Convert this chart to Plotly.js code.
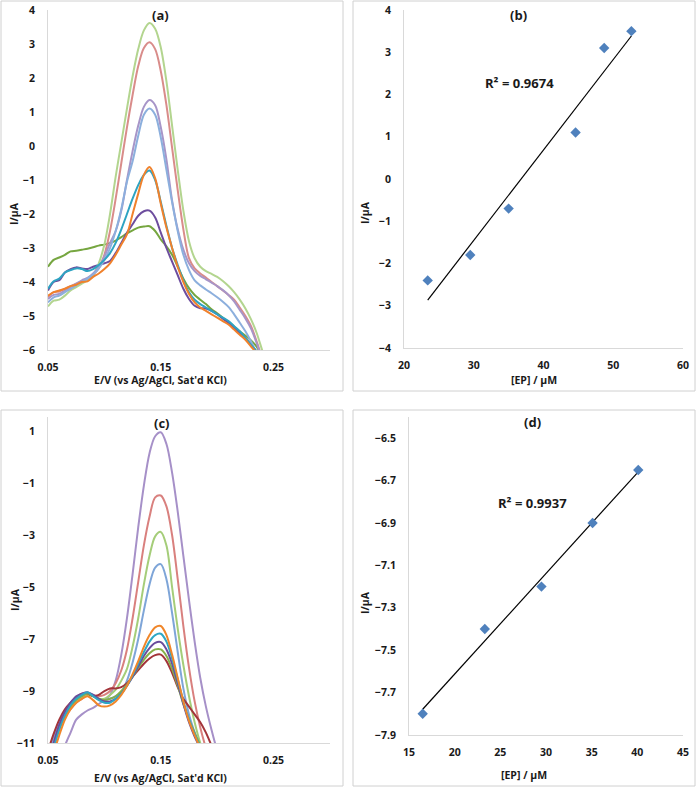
<!DOCTYPE html>
<html>
<head>
<meta charset="utf-8">
<script src="https://cdn.plot.ly/plotly-3.0.1.min.js"></script>
<style>html,body{margin:0;padding:0;background:#fff;}#chart{width:697px;height:787px;}</style>
</head>
<body>
<div id="chart"></div>
<script>
// ---------- Panel (a): DPV curves ----------
const potA = [0.050,0.055,0.060,0.065,0.070,0.075,0.080,0.085,0.090,0.095,0.100,0.105,0.110,0.115,0.120,0.125,0.130,0.135,0.140,0.145,0.150,0.155,0.160,0.165,0.170,0.175,0.180,0.185,0.190,0.195,0.200,0.205,0.210,0.215,0.220,0.225,0.230,0.235,0.240,0.245];
const aDarkGreen  = [-3.55,-3.35,-3.28,-3.2,-3.1,-3.08,-3.05,-3.02,-2.98,-2.93,-2.9,-2.85,-2.78,-2.68,-2.57,-2.48,-2.4,-2.37,-2.36,-2.5,-2.75,-2.95,-3.2,-3.55,-3.9,-4.18,-4.38,-4.52,-4.65,-4.8,-4.92,-5.05,-5.18,-5.31,-5.45,-5.58,-5.72,-5.9,-6.2,-6.5];
const aPurple     = [-4.25,-4.0,-3.95,-3.72,-3.62,-3.57,-3.6,-3.62,-3.55,-3.5,-3.45,-3.38,-3.15,-2.85,-2.55,-2.3,-2.05,-1.92,-1.9,-2.1,-2.55,-3.0,-3.4,-3.8,-4.2,-4.5,-4.7,-4.77,-4.78,-4.85,-4.95,-5.08,-5.2,-5.35,-5.5,-5.65,-5.85,-6.05,-6.4,-6.7];
const aTeal       = [-4.2,-3.98,-3.9,-3.72,-3.65,-3.6,-3.62,-3.68,-3.62,-3.5,-3.35,-3.15,-2.85,-2.45,-2.0,-1.55,-1.15,-0.85,-0.72,-1.0,-1.65,-2.35,-3.0,-3.5,-3.95,-4.3,-4.52,-4.65,-4.75,-4.85,-4.95,-5.05,-5.15,-5.3,-5.45,-5.65,-5.85,-6.05,-6.35,-6.7];
const aOrange     = [-4.4,-4.3,-4.25,-4.2,-4.12,-4.08,-4.0,-3.98,-3.85,-3.75,-3.62,-3.45,-3.2,-2.9,-2.6,-2.0,-1.4,-0.85,-0.62,-0.95,-1.7,-2.4,-3.0,-3.55,-4.0,-4.35,-4.6,-4.75,-4.85,-4.95,-5.05,-5.15,-5.25,-5.4,-5.55,-5.7,-5.9,-6.1,-6.4,-6.8];
const aLightBlue  = [-4.6,-4.45,-4.4,-4.3,-4.2,-4.1,-4.0,-3.9,-3.78,-3.6,-3.35,-3.0,-2.5,-1.85,-1.05,-0.45,0.3,0.92,1.1,0.92,0.25,-0.7,-1.65,-2.5,-3.2,-3.65,-3.95,-4.1,-4.22,-4.33,-4.45,-4.58,-4.73,-4.95,-5.2,-5.45,-5.75,-6.1,-6.5,-7.0];
const aLightPurple= [-4.5,-4.38,-4.35,-4.25,-4.15,-4.05,-3.95,-3.88,-3.75,-3.55,-3.25,-2.85,-2.5,-1.9,-1.0,-0.15,0.6,1.15,1.35,1.2,0.55,-0.4,-1.6,-2.45,-3.05,-3.45,-3.68,-3.82,-3.92,-4.02,-4.12,-4.24,-4.38,-4.57,-4.82,-5.07,-5.37,-5.8,-6.3,-6.8];
const aLightRed   = [-4.45,-4.3,-4.28,-4.2,-4.12,-4.05,-3.98,-3.9,-3.78,-3.6,-3.2,-2.5,-1.55,-0.5,0.55,1.5,2.35,2.88,3.05,2.85,2.2,1.2,-0.05,-1.3,-2.45,-3.3,-3.6,-3.75,-3.87,-4.0,-4.12,-4.25,-4.38,-4.52,-4.75,-5.0,-5.3,-5.75,-6.25,-6.7];
const aLightGreen = [-4.72,-4.55,-4.52,-4.4,-4.25,-4.15,-4.05,-3.95,-3.8,-3.45,-2.9,-2.0,-0.9,0.1,1.1,2.05,2.85,3.4,3.62,3.45,2.9,1.9,0.6,-0.7,-1.9,-2.8,-3.3,-3.55,-3.68,-3.76,-3.85,-3.97,-4.12,-4.3,-4.52,-4.78,-5.1,-5.5,-6.02,-6.5];

// ---------- Panel (b): calibration ----------
const concB = [23.4, 29.5, 35.0, 44.6, 48.7, 52.6];
const currB = [-2.4, -1.8, -0.7, 1.1, 3.1, 3.5];
const r2B = "R² = 0.9674";

// ---------- Panel (c): DPV curves ----------
const potC = [0.050,0.055,0.060,0.065,0.070,0.075,0.080,0.085,0.090,0.095,0.100,0.105,0.110,0.115,0.120,0.125,0.130,0.135,0.140,0.145,0.150,0.155,0.160,0.165,0.170,0.175,0.180,0.185,0.190,0.195,0.200,0.205];
const cDarkRed    = [-11.3,-10.65,-10.1,-9.7,-9.45,-9.25,-9.1,-9.1,-9.2,-9.15,-9.0,-8.9,-8.9,-8.85,-8.7,-8.45,-8.2,-7.95,-7.75,-7.62,-7.6,-7.85,-8.3,-8.85,-9.3,-9.6,-9.9,-10.2,-10.6,-11.1,-11.6,-12.1];
const cGreen      = [-11.9,-11.1,-10.45,-9.95,-9.6,-9.35,-9.2,-9.1,-9.2,-9.3,-9.35,-9.3,-9.2,-9.0,-8.75,-8.45,-8.1,-7.8,-7.55,-7.4,-7.4,-7.65,-8.15,-8.8,-9.5,-10.1,-10.6,-11.1,-11.6,-12.1,-12.6,-13.1];
const cPurple     = [-11.8,-11.0,-10.3,-9.8,-9.45,-9.2,-9.1,-9.05,-9.15,-9.3,-9.4,-9.4,-9.3,-9.1,-8.8,-8.45,-8.05,-7.65,-7.35,-7.15,-7.12,-7.4,-7.95,-8.7,-9.5,-10.2,-10.75,-11.2,-11.7,-12.2,-12.7,-13.2];
const cTeal       = [-12.0,-11.2,-10.5,-9.95,-9.55,-9.3,-9.15,-9.05,-9.2,-9.35,-9.45,-9.45,-9.3,-9.1,-8.8,-8.4,-7.95,-7.5,-7.1,-6.85,-6.8,-7.1,-7.75,-8.55,-9.4,-10.1,-10.65,-11.15,-11.6,-12.1,-12.6,-13.1];
const cOrange     = [-12.2,-11.4,-10.7,-10.1,-9.7,-9.45,-9.3,-9.2,-9.35,-9.55,-9.6,-9.55,-9.4,-9.15,-8.8,-8.35,-7.85,-7.3,-6.85,-6.55,-6.5,-6.85,-7.6,-8.5,-9.4,-10.15,-10.7,-11.2,-11.7,-12.2,-12.7,-13.2];
const cLightBlue  = [-11.5,-10.8,-10.2,-9.8,-9.5,-9.3,-9.15,-9.1,-9.15,-9.3,-9.35,-9.3,-9.2,-9.05,-8.6,-7.9,-7.0,-5.9,-4.9,-4.25,-4.12,-4.7,-6.0,-7.5,-8.9,-9.9,-10.6,-11.3,-12.0,-12.6,-13.2,-13.8];
const cLightGreen = [-11.6,-10.9,-10.3,-9.9,-9.6,-9.4,-9.25,-9.15,-9.2,-9.3,-9.3,-9.15,-8.95,-8.6,-8.15,-7.3,-6.2,-4.9,-3.8,-3.05,-2.88,-3.4,-5.0,-6.6,-8.0,-9.2,-10.2,-11.0,-11.6,-12.2,-12.8,-13.4];
const cLightRed   = [-11.8,-11.0,-10.4,-10.0,-9.7,-9.45,-9.3,-9.15,-9.15,-9.2,-9.15,-9.0,-8.7,-8.2,-7.4,-6.2,-4.8,-3.4,-2.3,-1.55,-1.48,-1.9,-3.0,-4.7,-6.5,-8.1,-9.4,-10.4,-11.2,-11.9,-12.5,-13.1];
const cLightPurple= [-13.0,-12.3,-11.7,-11.1,-10.6,-10.1,-9.9,-9.75,-9.65,-9.5,-9.35,-9.15,-8.6,-7.6,-6.2,-4.5,-2.7,-1.1,0.15,0.8,0.95,0.5,-0.6,-2.1,-3.8,-5.5,-7.1,-8.5,-9.6,-10.5,-11.3,-12.0];

// ---------- Panel (d): calibration ----------
const concD = [16.5, 23.3, 29.5, 35.1, 40.1];
const currD = [-7.8, -7.4, -7.2, -6.9, -6.65];
const r2D = "R² = 0.9937";

// ---------- text ----------
const xTitleCV = "E/V (vs Ag/AgCl, Sat'd KCl)";
const xTitleCal = "[EP] / μM";
const yTitle = "I/μA";
const panelLabels = ["(a)", "(b)", "(c)", "(d)"];

// ---------- helpers ----------
const W = 697, H = 787;
const fx = p => p / W;
const fy = p => 1 - p / H;
const FONT = "'Open Sans', 'Noto Sans', sans-serif";

function fitLine(xs, ys) {
  const n = xs.length;
  const mx = xs.reduce((s, v) => s + v, 0) / n;
  const my = ys.reduce((s, v) => s + v, 0) / n;
  let sxy = 0, sxx = 0;
  for (let i = 0; i < n; i++) { sxy += (xs[i] - mx) * (ys[i] - my); sxx += (xs[i] - mx) ** 2; }
  const m = sxy / sxx, b = my - m * mx;
  const x0 = Math.min(...xs), x1 = Math.max(...xs);
  return { x: [x0, x1], y: [m * x0 + b, m * x1 + b] };
}

function curve(x, y, color, xa, ya) {
  return { type: 'scatter', mode: 'lines', x: x, y: y, xaxis: xa, yaxis: ya,
    line: { color: color, width: 2, shape: 'spline', smoothing: 0.9 }, showlegend: false, hoverinfo: 'skip' };
}

const traces = [];
// (a)
[[aDarkGreen,'#76a640'],[aPurple,'#6d4d9e'],[aLightGreen,'#b3d58f'],[aLightRed,'#d98c8a'],
 [aLightPurple,'#a795c8'],[aLightBlue,'#8cafdd'],[aTeal,'#2ea3c2'],[aOrange,'#f0812c']]
  .forEach(([y, c]) => traces.push(curve(potA, y, c, 'x', 'y')));
// (b)
const fitB = fitLine(concB, currB);
traces.push({ type: 'scatter', mode: 'lines', x: fitB.x, y: fitB.y, xaxis: 'x2', yaxis: 'y2',
  line: { color: '#000', width: 1.2 }, showlegend: false, hoverinfo: 'skip' });
traces.push({ type: 'scatter', mode: 'markers', x: concB, y: currB, xaxis: 'x2', yaxis: 'y2',
  marker: { symbol: 'diamond', size: 8, color: '#4f81bd' }, showlegend: false });
// (c)
[[cLightPurple,'#a690c8'],[cLightRed,'#d9807e'],[cLightGreen,'#a5cd79'],[cLightBlue,'#7ea5d8'],
 [cDarkRed,'#a3343a'],[cGreen,'#86b04a'],[cPurple,'#6a4c9c'],[cTeal,'#2ea7c4'],[cOrange,'#f0862a']]
  .forEach(([y, c]) => traces.push(curve(potC, y, c, 'x3', 'y3')));
// (d)
const fitD = fitLine(concD, currD);
traces.push({ type: 'scatter', mode: 'lines', x: fitD.x, y: fitD.y, xaxis: 'x4', yaxis: 'y4',
  line: { color: '#000', width: 1.2 }, showlegend: false, hoverinfo: 'skip' });
traces.push({ type: 'scatter', mode: 'markers', x: concD, y: currD, xaxis: 'x4', yaxis: 'y4',
  marker: { symbol: 'diamond', size: 8, color: '#4f81bd' }, showlegend: false });

const tickFont = { family: FONT, size: 10.5, color: '#1a1a1a', weight: 'bold' };
function xax(domain, range, tick0, dtick, fmt, anchor) {
  return { domain: domain, range: range, tick0: tick0, dtick: dtick, tickmode: 'linear', tickformat: fmt,
    showgrid: false, zeroline: false, showline: true, linecolor: '#d9d9d9', linewidth: 1,
    ticks: '', tickfont: tickFont, ticklabelstandoff: 7, anchor: anchor, fixedrange: true };
}
function yax(domain, range, tick0, dtick, fmt, anchor) {
  return { domain: domain, range: range, tick0: tick0, dtick: dtick, tickmode: 'linear', tickformat: fmt,
    showgrid: false, zeroline: false, showline: true, linecolor: '#d9d9d9', linewidth: 1,
    ticks: '', tickfont: tickFont, ticklabelstandoff: 10, anchor: anchor, fixedrange: true };
}

const titleFont = { family: FONT, size: 10.5, color: '#1a1a1a', weight: 'bold' };
const ann = [];
function addText(text, x, y, size, opts) {
  ann.push(Object.assign({ text: text, x: fx(x), y: fy(y), xref: 'paper', yref: 'paper', showarrow: false,
    xanchor: 'center', yanchor: 'middle', font: Object.assign({}, titleFont, { size: size }) }, opts || {}));
}
addText(panelLabels[0], 160, 15, 13);
addText(panelLabels[1], 518, 15, 13);
addText(panelLabels[2], 162, 423, 13);
addText(panelLabels[3], 532, 422, 13);
addText(xTitleCV, 160, 380, 10.5);
addText(xTitleCal, 534, 380, 10.5);
addText(xTitleCV, 160, 778, 10.5);
addText(xTitleCal, 524, 775, 10.5);
addText(yTitle, 14, 213, 10.5, { textangle: -90 });
addText(yTitle, 365, 213, 10.5, { textangle: -90 });
addText(yTitle, 15, 600, 10.5, { textangle: -90 });
addText(yTitle, 365, 603, 10.5, { textangle: -90 });
ann.push({ text: r2B, x: 36.6, y: 2.27, xref: 'x2', yref: 'y2', showarrow: false, xanchor: 'center', yanchor: 'middle',
  font: { family: FONT, size: 13, color: '#1a1a1a', weight: 'bold' } });
ann.push({ text: r2D, x: 28.5, y: -6.807, xref: 'x4', yref: 'y4', showarrow: false, xanchor: 'center', yanchor: 'middle',
  font: { family: FONT, size: 13, color: '#1a1a1a', weight: 'bold' } });

function frame(x0, y0, x1, y1) {
  return { type: 'rect', xref: 'paper', yref: 'paper', x0: fx(x0), x1: fx(x1), y0: fy(y1), y1: fy(y0),
    line: { color: '#d0d0d0', width: 1 }, fillcolor: 'rgba(0,0,0,0)', layer: 'below' };
}

const layout = {
  width: W, height: H, margin: { l: 0, r: 0, t: 0, b: 0 },
  paper_bgcolor: '#fff', plot_bgcolor: 'rgba(0,0,0,0)', showlegend: false,
  font: { family: FONT },
  xaxis:  xax([fx(48), fx(330)], [0.05, 0.30], 0.05, 0.1, '.2f', 'y'),
  yaxis:  yax([fy(350), fy(10)], [-6, 4], -6, 1, 'd', 'x'),
  xaxis2: xax([fx(404), fx(683)], [20, 60], 20, 10, 'd', 'y2'),
  yaxis2: yax([fy(348), fy(10)], [-4, 4], -4, 1, 'd', 'x2'),
  xaxis3: xax([fx(48), fx(330)], [0.05, 0.30], 0.05, 0.1, '.2f', 'y3'),
  yaxis3: yax([fy(743), fy(417)], [-11, 1.54], -11, 2, 'd', 'x3'),
  xaxis4: xax([fx(409), fx(683)], [15, 45], 15, 5, 'd', 'y4'),
  yaxis4: yax([fy(735), fy(417)], [-7.9, -6.4], -7.9, 0.2, '.1f', 'x4'),
  annotations: ann,
  shapes: [frame(1, 1, 343, 391), frame(353, 1, 695, 391), frame(1, 410, 343, 786), frame(353, 410, 695, 786)]
};

Plotly.newPlot('chart', traces, layout, { staticPlot: true, displayModeBar: false });
</script>
</body>
</html>
